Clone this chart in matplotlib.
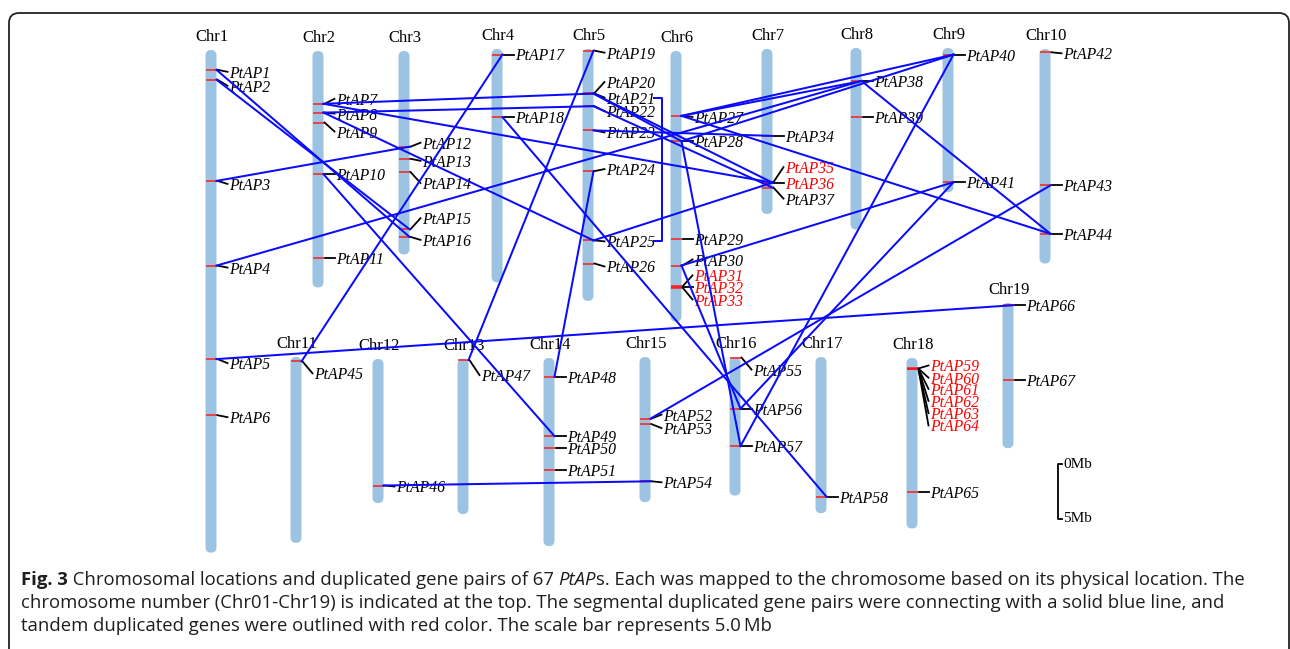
"""
PtAP 유전자 염색체 위치 + 중복 유전자쌍 그림
"""
import matplotlib
matplotlib.use("Agg")
import matplotlib.pyplot as plt
from matplotlib.patches import FancyBboxPatch

# ---- data (Mb) ----
CHROMS = ["Chr1", "Chr2", "Chr3", "Chr4", "Chr5", "Chr6", "Chr7", "Chr8", "Chr9", "Chr10",
          "Chr11", "Chr12", "Chr13", "Chr14", "Chr15", "Chr16", "Chr17", "Chr18", "Chr19"]
CHR_LEN = [45.7, 21.5, 18.5, 21.2, 22.9, 24.6, 15.0, 16.5, 13.1, 19.5,
           16.9, 13.1, 14.1, 17.1, 13.2, 12.6, 14.2, 15.5, 13.2]

GENE_CHR = [1, 1, 1, 1, 1, 1,
            2, 2, 2, 2, 2,
            3, 3, 3, 3, 3,
            4, 4,
            5, 5, 5, 5, 5, 5, 5, 5,
            6, 6, 6, 6, 6, 6, 6,
            7, 7, 7, 7,
            8, 8,
            9, 9,
            10, 10, 10,
            11, 12, 13,
            14, 14, 14, 14,
            15, 15, 15,
            16, 16, 16,
            17,
            18, 18, 18, 18, 18, 18, 18,
            19, 19]
GENE_MB = [1.8, 2.7, 11.9, 19.6, 28.1, 33.2,
           4.8, 5.6, 6.5, 11.2, 18.8,
           8.7, 9.8, 11.0, 16.2, 16.9,
           0.5, 6.2,
           0.15, 4.0, 4.05, 5.2, 7.4, 11.1, 17.4, 19.5,
           5.9, 8.2, 17.1, 19.5, 21.4, 21.45, 21.5,
           7.9, 12.1, 12.15, 12.6,
           3.0, 6.3,
           0.6, 12.2,
           0.3, 12.4, 16.8,
           0.4, 11.5, 0.1,
           1.7, 7.1, 8.2, 10.2,
           5.6, 6.1, 11.3,
           0.05, 4.7, 8.1,
           12.7,
           0.95, 0.97, 0.99, 1.0, 1.02, 1.04, 12.2,
           0.2, 7.0]
GENES = [f"PtAP{i}" for i in range(1, len(GENE_MB) + 1)]

# 분절 중복 (파란 선)
SEG_PAIRS = [(1, 16), (2, 15), (3, 12), (4, 38), (5, 66), (7, 21), (8, 22), (7, 36),
             (8, 25), (10, 49), (17, 45), (18, 58), (19, 47), (21, 36), (22, 37),
             (21, 28), (23, 34), (24, 48), (25, 36), (27, 38), (27, 40), (28, 40),
             (27, 44), (28, 57), (30, 41), (30, 56), (38, 44), (40, 57), (41, 56),
             (43, 52), (46, 54)]
BRACKET_PAIR = (21, 25)
# 탠덤 중복 (빨간 글씨)
TANDEM = [31, 32, 33, 35, 36, 59, 60, 61, 62, 63, 64]

# ---- layout (pixels) ----
CHR_X = [211, 318, 404, 497, 588, 676, 767, 856, 948, 1045,
         296, 378, 463, 549, 645, 735, 821, 912, 1008]
CHR_TOP = [50, 51, 51, 49, 49, 51, 49, 48, 48, 49,
           357, 359, 359, 358, 357, 357, 357, 358, 303]
PX_PER_MB = 11
BAR_W = 11
# 라벨 세로 위치 보정 (tick 기준)
LABEL_DY = {1: 2, 2: 6, 3: 3, 4: 2, 5: 4, 6: 2, 7: -5, 8: 1, 9: 9, 12: -4, 13: 2,
            14: 11, 15: -11, 16: 3, 19: 2, 20: -11, 21: 4, 22: 5, 23: 2, 24: -2,
            25: 1, 26: 3, 27: 1, 30: -6, 31: -11, 33: 12, 35: -15, 37: 11, 42: 1,
            45: 12, 46: 1, 47: 15, 52: -4, 53: 4, 54: 1, 55: 12, 59: -3, 60: 9,
            61: 20, 62: 32, 63: 44, 64: 56}

CHR_COLOR = "#9cc4e2"
BLUE = "#0a0aff"
TICK_RED = "#ff1a1a"
PX = 72 / 100  # px -> pt


def gene_xy(g):
    c = GENE_CHR[g - 1] - 1
    return CHR_X[c] + BAR_W / 2, CHR_TOP[c] + GENE_MB[g - 1] * PX_PER_MB


fig = plt.figure(figsize=(12.9, 6.49), dpi=100)
ax = fig.add_axes([0, 0, 1, 1])
ax.set_xlim(0, 1290)
ax.set_ylim(649, 0)
ax.axis("off")

# 바깥 테두리
ax.add_patch(FancyBboxPatch((9, 13), 1280, 700, boxstyle="round,pad=0,rounding_size=10",
                            fc="none", ec="#222222", lw=1.8 * PX))

# 염색체
for name, ln, x, top in zip(CHROMS, CHR_LEN, CHR_X, CHR_TOP):
    ax.add_patch(FancyBboxPatch((x - BAR_W / 2, top), BAR_W, ln * PX_PER_MB,
                                boxstyle=f"round,pad=0,rounding_size={BAR_W / 2}",
                                fc=CHR_COLOR, ec="none"))
    ax.text(x + 1, top - 13, name, ha="center", va="center",
            family="Liberation Serif", fontsize=12)

# 유전자 tick, 연결선, 라벨
label_y = {}
for g in range(1, len(GENES) + 1):
    xr, ty = gene_xy(g)
    ax.plot([xr - BAR_W, xr], [ty, ty], color=TICK_RED, lw=1.5 * PX, solid_capstyle="butt")
    ly = ty + LABEL_DY.get(g, 0)
    label_y[g] = ly
    ax.plot([xr + 1, xr + 11], [ty, ly], color="black", lw=1.8 * PX)
    ax.text(xr + 13, ly, GENES[g - 1], ha="left", va="center_baseline",
            family="Liberation Serif", style="italic", fontsize=11.3,
            color="red" if g in TANDEM else "black")

# 분절 중복 선
for a, b in SEG_PAIRS:
    xa, ya = gene_xy(a)
    xb, yb = gene_xy(b)
    ax.plot([xa, xb], [ya, yb], color=BLUE, lw=2.0 * PX, zorder=3)

# Chr5 내부 쌍: 괄호 모양
ya, yb = label_y[BRACKET_PAIR[0]], label_y[BRACKET_PAIR[1]]
ax.plot([654, 662, 662, 654], [ya, ya, yb, yb], color=BLUE, lw=2.0 * PX, zorder=3)

# 스케일 바
sx, sy = 1058, 464
ax.plot([sx + 4, sx, sx, sx + 4], [sy, sy, sy + 5 * PX_PER_MB, sy + 5 * PX_PER_MB],
        color="black", lw=1.8 * PX)
ax.text(sx + 5, sy, "0Mb", va="center", family="Liberation Serif", fontsize=11)
ax.text(sx + 5, sy + 5 * PX_PER_MB, "5Mb", va="center", family="Liberation Serif", fontsize=11)

# 캡션
CAP_FONT = "Open Sans"
CAP_SIZE = 13.3
caption = [
    [("Fig. 3", "bold", "normal"),
     (" Chromosomal locations and duplicated gene pairs of 67 ", "normal", "normal"),
     ("PtAP", "normal", "italic"),
     ("s. Each was mapped to the chromosome based on its physical location. The", "normal", "normal")],
    [("chromosome number (Chr01-Chr19) is indicated at the top. The segmental duplicated gene pairs "
      "were connecting with a solid blue line, and", "normal", "normal")],
    [("tandem duplicated genes were outlined with red color. The scale bar represents 5.0\u2009Mb",
      "normal", "normal")],
]
for line, y in zip(caption, [580, 603, 626]):
    prev = None
    for s, weight, style in line:
        kw = dict(family=CAP_FONT, fontsize=CAP_SIZE, weight=weight, style=style,
                  color="#1e1e1e", va="center", ha="left")
        if prev is None:
            prev = ax.text(21, y, s, **kw)
        else:
            prev = ax.annotate(s, xy=(1, 0.5), xycoords=prev, **kw)

plt.savefig("out.png", dpi=100)
plt.close()
